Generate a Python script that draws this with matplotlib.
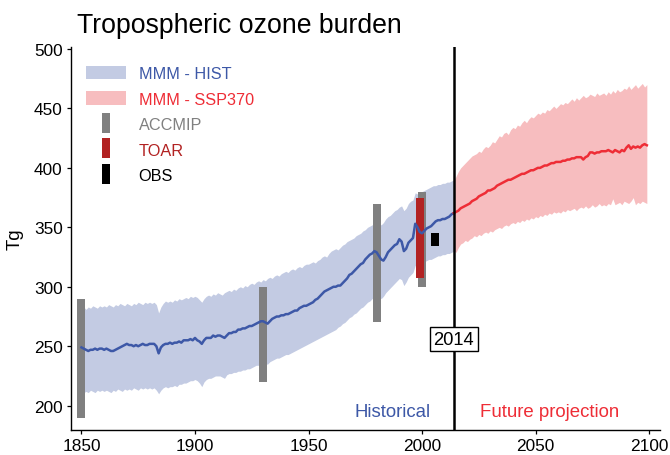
import matplotlib
matplotlib.use("Agg")
import matplotlib.pyplot as plt
from matplotlib.patches import Patch
from matplotlib.lines import Line2D
import numpy as np

plt.rcParams['font.family'] = ['Liberation Sans', 'DejaVu Sans']

# ---------------- data ----------------
hist_years = list(range(1850, 2015))
hist_mean = [
    249, 248, 247, 246, 247, 247, 248, 247, 248, 248,
    247, 248, 247, 246, 246, 247, 248, 249, 250, 251,
    252, 251, 251, 250, 251, 250, 251, 252, 251, 251,
    252, 252, 252, 250, 244, 249, 251, 252, 252, 253,
    252, 253, 253, 254, 253, 255, 255, 255, 256, 255,
    257, 255, 254, 252, 255, 257, 257, 257, 259, 258,
    259, 259, 258, 257, 259, 261, 261, 262, 262, 264,
    264, 265, 265, 266, 267, 267, 268, 269, 270, 271,
    271, 270, 269, 271, 273, 274, 275, 275, 276, 276,
    277, 277, 278, 279, 280, 280, 282, 283, 284, 284,
    285, 286, 287, 289, 290, 292, 294, 296, 297, 298,
    299, 300, 300, 301, 301, 303, 305, 307, 310, 311,
    313, 315, 317, 319, 320, 323, 325, 327, 328, 330,
    329, 326, 323, 322, 325, 329, 331, 333, 335, 336,
    340, 338, 330, 332, 337, 339, 341, 353, 350, 346,
    345, 347, 349, 350, 351, 353, 355, 356, 356, 357,
    357, 358, 359, 361, 362,
]
hist_upper = [
    282, 283, 281, 283, 282, 284, 283, 282, 284, 283,
    284, 283, 285, 284, 283, 285, 284, 286, 285, 284,
    286, 285, 284, 286, 285, 287, 286, 285, 287, 286,
    287, 286, 287, 285, 278, 283, 286, 288, 287, 288,
    287, 289, 288, 290, 289, 290, 291, 290, 292, 291,
    292, 291, 289, 287, 290, 292, 293, 292, 294, 293,
    295, 294, 293, 295, 296, 297, 296, 298, 297, 299,
    300, 299, 301, 300, 302, 303, 302, 304, 305, 304,
    306, 305, 307, 308, 307, 309, 310, 309, 311, 312,
    313, 312, 314, 315, 314, 316, 317, 316, 318, 319,
    319, 320, 321, 320, 322, 323, 325, 326, 325, 328,
    330, 331, 332, 331, 333, 335, 336, 338, 339, 340,
    341, 343, 344, 345, 347, 348, 350, 351, 352, 354,
    355, 354, 352, 354, 357, 359, 360, 362, 364, 365,
    367, 368, 364, 366, 370, 372, 373, 379, 378, 377,
    380, 381, 382, 383, 384, 385, 385, 386, 386, 387,
    387, 388, 388, 389, 390,
]
hist_lower = [
    212, 211, 212, 211, 213, 212, 211, 213, 212, 213,
    212, 213, 212, 211, 213, 212, 214, 213, 212, 214,
    213, 214, 213, 215, 214, 213, 215, 214, 215, 214,
    215, 214, 215, 213, 210, 213, 215, 216, 215, 216,
    216, 217, 216, 218, 218, 219, 219, 220, 221, 221,
    222, 221, 219, 216, 220, 222, 223, 223, 224, 225,
    225, 225, 224, 223, 226, 227, 227, 228, 228, 229,
    229, 230, 230, 231, 231, 232, 233, 234, 234, 235,
    235, 235, 235, 237, 238, 239, 240, 240, 241, 242,
    243, 243, 244, 245, 246, 247, 248, 249, 250, 251,
    252, 253, 254, 255, 256, 257, 258, 259, 260, 261,
    262, 263, 264, 266, 267, 269, 270, 272, 274, 275,
    277, 278, 280, 282, 283, 285, 287, 288, 290, 292,
    293, 292, 290, 292, 295, 297, 299, 301, 303, 305,
    307, 306, 301, 304, 308, 310, 312, 318, 317, 318,
    320, 321, 322, 323, 323, 324, 325, 326, 326, 327,
    327, 328, 328, 329, 330,
]

ssp_years = list(range(2014, 2100))
ssp_mean = [
    362,
    363, 364, 366, 367, 368, 369, 370, 372, 373, 374,
    376, 377, 378, 379, 381, 381, 382, 383, 385, 386,
    387, 388, 389, 390, 390, 391, 392, 393, 394, 395,
    395, 396, 397, 398, 398, 399, 400, 400, 401, 402,
    402, 403, 404, 404, 405, 405, 405, 406, 406, 407,
    407, 408, 408, 409, 409, 409, 407, 409, 410, 413,
    413, 412, 413, 413, 414, 414, 414, 415, 414, 413,
    415, 414, 413, 415, 414, 417, 419, 416, 418, 417,
    418, 417, 419, 420, 419,
]
ssp_upper = [
    389,
    393, 397, 400, 402, 404, 406, 408, 410, 411, 412,
    414, 413, 416, 418, 417, 419, 422, 421, 424, 427,
    426, 429, 430, 428, 432, 434, 433, 436, 435, 438,
    440, 438, 441, 443, 442, 444, 446, 445, 447, 446,
    449, 448, 450, 452, 450, 452, 454, 453, 455, 454,
    456, 458, 456, 459, 457, 459, 461, 459, 460, 462,
    461, 460, 463, 461, 462, 463, 461, 464, 462, 465,
    463, 466, 464, 465, 467, 466, 469, 466, 468, 470,
    467, 469, 471, 468, 470,
]
ssp_lower = [
    330,
    329, 333, 336, 337, 339, 338, 340, 341, 343, 342,
    344, 343, 345, 346, 345, 347, 346, 348, 349, 350,
    349, 351, 352, 351, 353, 354, 353, 355, 354, 356,
    355, 357, 356, 358, 357, 359, 358, 360, 359, 361,
    360, 362, 361, 363, 362, 363, 362, 364, 363, 365,
    364, 365, 366, 364, 366, 367, 366, 368, 366, 367,
    369, 367, 368, 370, 368, 369, 368, 370, 369, 374,
    369, 370, 371, 369, 372, 371, 370, 372, 375, 369,
    371, 370, 372, 371, 370,
]

accmip_years = [1850, 1930, 1980, 2000]
accmip_low = [190, 220, 270, 300]
accmip_high = [290, 300, 370, 380]

toar_years = [1999.3]
toar_low = [307]
toar_high = [375]

obs_years = [2005.5]
obs_low = [334]
obs_high = [345]

split_year = 2014
y_ticks = [200, 250, 300, 350, 400, 450, 500]
x_ticks = [1850, 1900, 1950, 2000, 2050, 2100]

# ---------------- style ----------------
c_hist_band = '#C3CBE3'
c_hist_line = '#3D58A7'
c_ssp_band = '#F7BDBF'
c_ssp_line = '#EE2D36'
c_accmip = '#808080'
c_toar = '#B22222'
c_obs = '#000000'

fig = plt.figure(figsize=(6.7, 4.56), dpi=100)
ax = fig.add_axes([71/670, 1 - 430.7/456, (660 - 71)/670, (430.7 - 48.3)/456])

ax.fill_between(hist_years, hist_lower, hist_upper, color=c_hist_band, lw=0, zorder=1)
ax.fill_between(ssp_years, ssp_lower, ssp_upper, color=c_ssp_band, lw=0, zorder=1)

bw = 3.5
ax.bar(accmip_years, np.array(accmip_high) - np.array(accmip_low), bottom=accmip_low,
       width=bw, color=c_accmip, lw=0, zorder=2)
ax.bar(toar_years, np.array(toar_high) - np.array(toar_low), bottom=toar_low,
       width=bw, color=c_toar, lw=0, zorder=3)
ax.bar(obs_years, np.array(obs_high) - np.array(obs_low), bottom=obs_low,
       width=bw, color=c_obs, lw=0, zorder=3)

ax.plot(hist_years, hist_mean, color=c_hist_line, lw=1.8, zorder=4, solid_joinstyle='round')
ax.plot(ssp_years, ssp_mean, color=c_ssp_line, lw=1.8, zorder=4, solid_joinstyle='round')

ax.axvline(split_year, color='black', lw=1.8, zorder=5)
ax.text(split_year, 255.9, '2014', ha='center', va='center', fontsize=13.2, zorder=6,
        bbox=dict(boxstyle='square,pad=0.2', fc='white', ec='black', lw=1.0))
ax.text(1987, 195, 'Historical', ha='center', va='center', fontsize=13.4, color=c_hist_line)
ax.text(2056, 195, 'Future projection', ha='center', va='center', fontsize=13.4, color=c_ssp_line)

ax.set_xlim(1845.4, 2104.8)
ax.set_ylim(179.8, 501.4)
ax.set_xticks(x_ticks)
ax.set_yticks(y_ticks)
for s in ['top', 'right']:
    ax.spines[s].set_visible(False)
for s in ['left', 'bottom']:
    ax.spines[s].set_linewidth(1.0)
ax.tick_params(axis='both', length=3, width=0.9, labelsize=12.4, pad=3, colors='black')

fig.text(15/670, 1 - 239.5/456, 'Tg', rotation=90, ha='center', va='center', fontsize=13.4)
fig.text(77/670, 1 - 26/456, 'Tropospheric ozone burden', ha='left', va='center', fontsize=19.2)

bar_marker = [(-0.21, -0.5), (0.21, -0.5), (0.21, 0.5), (-0.21, 0.5), (-0.21, -0.5)]
handles = [
    Patch(facecolor=c_hist_band, edgecolor='none'),
    Patch(facecolor=c_ssp_band, edgecolor='none'),
    Line2D([], [], ls='none', marker=bar_marker, markersize=13.7, color=c_accmip, mew=0),
    Line2D([], [], ls='none', marker=bar_marker, markersize=13.7, color=c_toar, mew=0),
    Line2D([], [], ls='none', marker=bar_marker, markersize=13.7, color=c_obs, mew=0),
]
labels = ['MMM - HIST', 'MMM - SSP370', 'ACCMIP', 'TOAR', 'OBS']
leg = ax.legend(handles, labels, loc='upper left', bbox_to_anchor=((86 - 71)/589, 1 - (67 - 48.3)/382.4),
                frameon=False, fontsize=11.7, handlelength=2.46, handleheight=0.9,
                handletextpad=0.78, labelspacing=0.62, borderpad=0, borderaxespad=0,
                labelcolor=[c_hist_line, c_ssp_line, c_accmip, c_toar, c_obs])

fig.savefig('out.png', dpi=100)
